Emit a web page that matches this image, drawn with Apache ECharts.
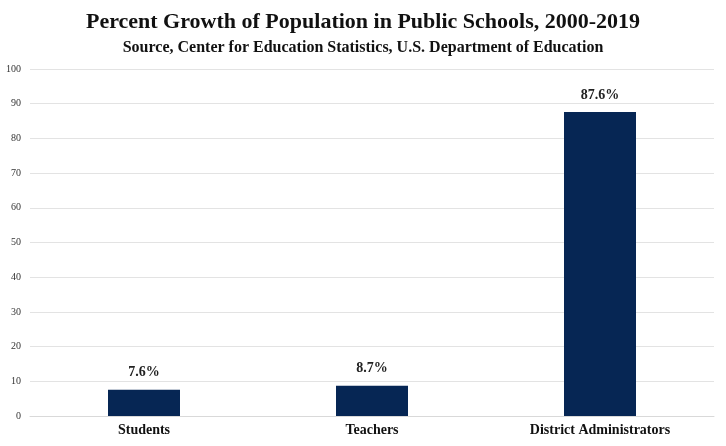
<!DOCTYPE html>
<html><head><meta charset="utf-8">
<script src="https://cdn.jsdelivr.net/npm/echarts@6/dist/echarts.min.js"></script>
<style>html,body{margin:0;padding:0;background:#fff}#c{width:726px;height:446px}</style>
</head><body><div id="c"></div>
<script>
const categories = ['Students', 'Teachers', 'District Administrators'];
const values = [7.6, 8.7, 87.6];
const yTicks = [0, 10, 20, 30, 40, 50, 60, 70, 80, 90, 100];

const serif = '"Liberation Serif", "DejaVu Serif", serif';
const chart = echarts.init(document.getElementById('c'));
chart.setOption({
  backgroundColor: '#fff',
  animation: false,
  title: {
    text: 'Percent Growth of Population in Public Schools, 2000-2019',
    subtext: 'Source, Center for Education Statistics, U.S. Department of Education',
    left: 'center', top: 6, itemGap: 7,
    textStyle: { fontFamily: serif, fontWeight: 'bold', fontSize: 22, color: '#111' },
    subtextStyle: { fontFamily: serif, fontWeight: 'bold', fontSize: 16, color: '#111' }
  },
  grid: { left: 30, right: 12, top: 69, bottom: 30, containLabel: false },
  xAxis: {
    type: 'category', data: categories,
    axisLine: { lineStyle: { color: '#d9d9d9' } },
    axisTick: { show: false },
    axisLabel: { fontFamily: serif, fontWeight: 'bold', fontSize: 14, color: '#111', margin: 7 }
  },
  yAxis: {
    type: 'value', min: yTicks[0], max: yTicks[yTicks.length - 1], interval: 10,
    axisLine: { show: false }, axisTick: { show: false },
    axisLabel: { fontFamily: serif, fontSize: 10, color: '#333', margin: 9 },
    splitLine: { lineStyle: { color: '#e3e3e3', width: 1 } }
  },
  series: [{
    type: 'bar', data: values, barWidth: 72,
    itemStyle: { color: '#062654' },
    label: {
      show: true, position: 'top', distance: 10,
      formatter: p => p.value.toFixed(1) + '%',
      fontFamily: serif, fontWeight: 'bold', fontSize: 14, color: '#222'
    }
  }]
});
</script></body></html>
